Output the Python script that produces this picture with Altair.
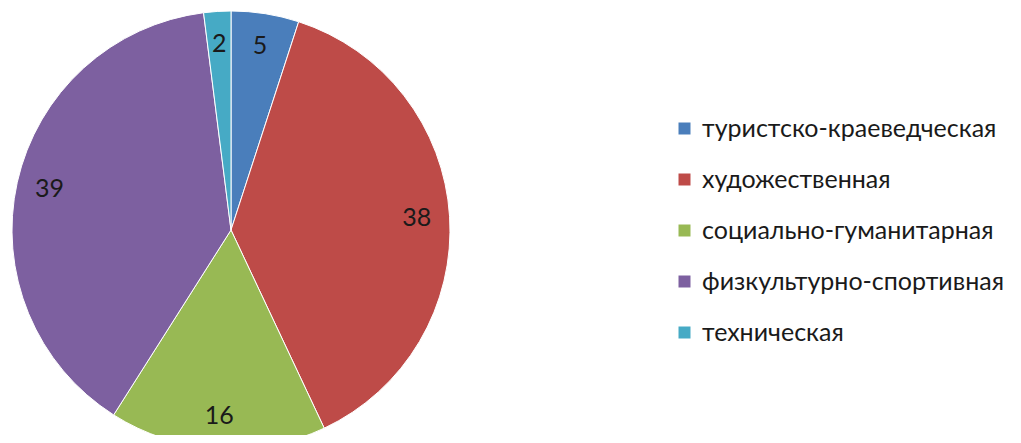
import altair as alt
import pandas as pd

categories = ["туристско-краеведческая", "художественная", "социально-гуманитарная",
              "физкультурно-спортивная", "техническая"]
values = [5, 38, 16, 39, 2]
colors = ["#4A7EBB", "#BE4B48", "#98B954", "#7D60A0", "#46AAC5"]

df = pd.DataFrame({"cat": categories, "val": values, "ord": list(range(len(values)))})

base = alt.Chart(df).encode(
    theta=alt.Theta("val:Q", stack=True),
    order=alt.Order("ord:Q"),
    x=alt.value(223),
    y=alt.value(222),
)

arcs = base.mark_arc(outerRadius=219, stroke="white", strokeWidth=1, clip=True).encode(
    color=alt.Color(
        "cat:N",
        scale=alt.Scale(domain=categories, range=colors),
        sort=categories,
        legend=alt.Legend(
            title=None,
            orient="none",
            legendX=664,
            legendY=108,
            padding=0,
            symbolType="square",
            symbolSize=144,
            symbolStrokeWidth=0,
            labelFont="Lato",
            labelFontSize=25,
            labelColor="#1a1a1a",
            labelLimit=600,
            rowPadding=25,
            labelOffset=5,
        ),
    )
)

labels = base.mark_text(radius=186, font="Lato", fontSize=25, color="#1a1a1a").encode(
    text=alt.Text("val:Q")
)

chart = (arcs + labels).properties(
    width=1005, height=427, padding=0, autosize=alt.AutoSizeParams(type="none")
).configure_view(stroke=None)

chart.save("out.html", embed_options={"renderer": "svg", "actions": False})
